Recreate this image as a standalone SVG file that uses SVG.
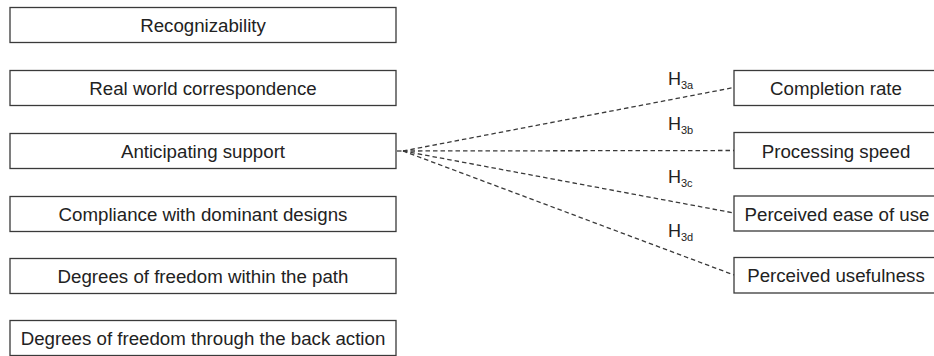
<svg xmlns="http://www.w3.org/2000/svg" width="934" height="356" viewBox="0 0 934 356">
<style>
.box{fill:#fff;stroke:#3a3a3a;stroke-width:1.3}
.t{font-family:"Liberation Sans",Arial,sans-serif;font-size:18.7px;fill:#222;text-anchor:middle}
.h{font-family:"Liberation Sans",Arial,sans-serif;font-size:18px;fill:#222}
.s{font-size:11px}
.c{stroke:#3a3a3a;stroke-width:1.3;stroke-dasharray:4.5 3;fill:none}
</style>
<rect width="934" height="356" fill="#fff"/>
<g id="n1"><rect class="box" x="10" y="7.5" width="386" height="35"/><text class="t" x="203" y="32">Recognizability</text></g>
<g id="n2"><rect class="box" x="10" y="70.5" width="386" height="35"/><text class="t" x="203" y="95">Real world correspondence</text></g>
<g id="n3"><rect class="box" x="10" y="133.5" width="386" height="35"/><text class="t" x="203" y="158">Anticipating support</text></g>
<g id="n4"><rect class="box" x="10" y="196.5" width="386" height="35"/><text class="t" x="203" y="221">Compliance with dominant designs</text></g>
<g id="n5"><rect class="box" x="10" y="258.5" width="386" height="35"/><text class="t" x="203" y="283">Degrees of freedom within the path</text></g>
<g id="n6"><rect class="box" x="10" y="320.5" width="386" height="35"/><text class="t" x="203" y="345">Degrees of freedom through the back action</text></g>
<g id="r1"><rect class="box" x="734" y="70.5" width="206" height="35"/><text class="t" x="836" y="95">Completion rate</text></g>
<g id="r2"><rect class="box" x="734" y="132.5" width="206" height="36"/><text class="t" x="836" y="157.5">Processing speed</text></g>
<g id="r3"><rect class="box" x="734" y="196" width="206" height="35"/><text class="t" x="837" y="220.5">Perceived ease of use</text></g>
<g id="r4"><rect class="box" x="734" y="257.5" width="206" height="35.5"/><text class="t" x="836" y="282">Perceived usefulness</text></g>
<g id="connectors">
<path class="c" d="M397 151 L403 151"/>
<path class="c" d="M403 151 L734 87.5"/>
<path class="c" d="M403 151 L734 150.5"/>
<path class="c" d="M403 151 L734 213"/>
<path class="c" d="M403 151 L734 275"/>
</g>
<g id="labels">
<text class="h" x="668" y="85">H<tspan class="s" dy="4">3a</tspan></text>
<text class="h" x="668" y="130">H<tspan class="s" dy="4">3b</tspan></text>
<text class="h" x="668" y="183">H<tspan class="s" dy="4">3c</tspan></text>
<text class="h" x="668" y="237">H<tspan class="s" dy="4">3d</tspan></text>
</g>
</svg>
